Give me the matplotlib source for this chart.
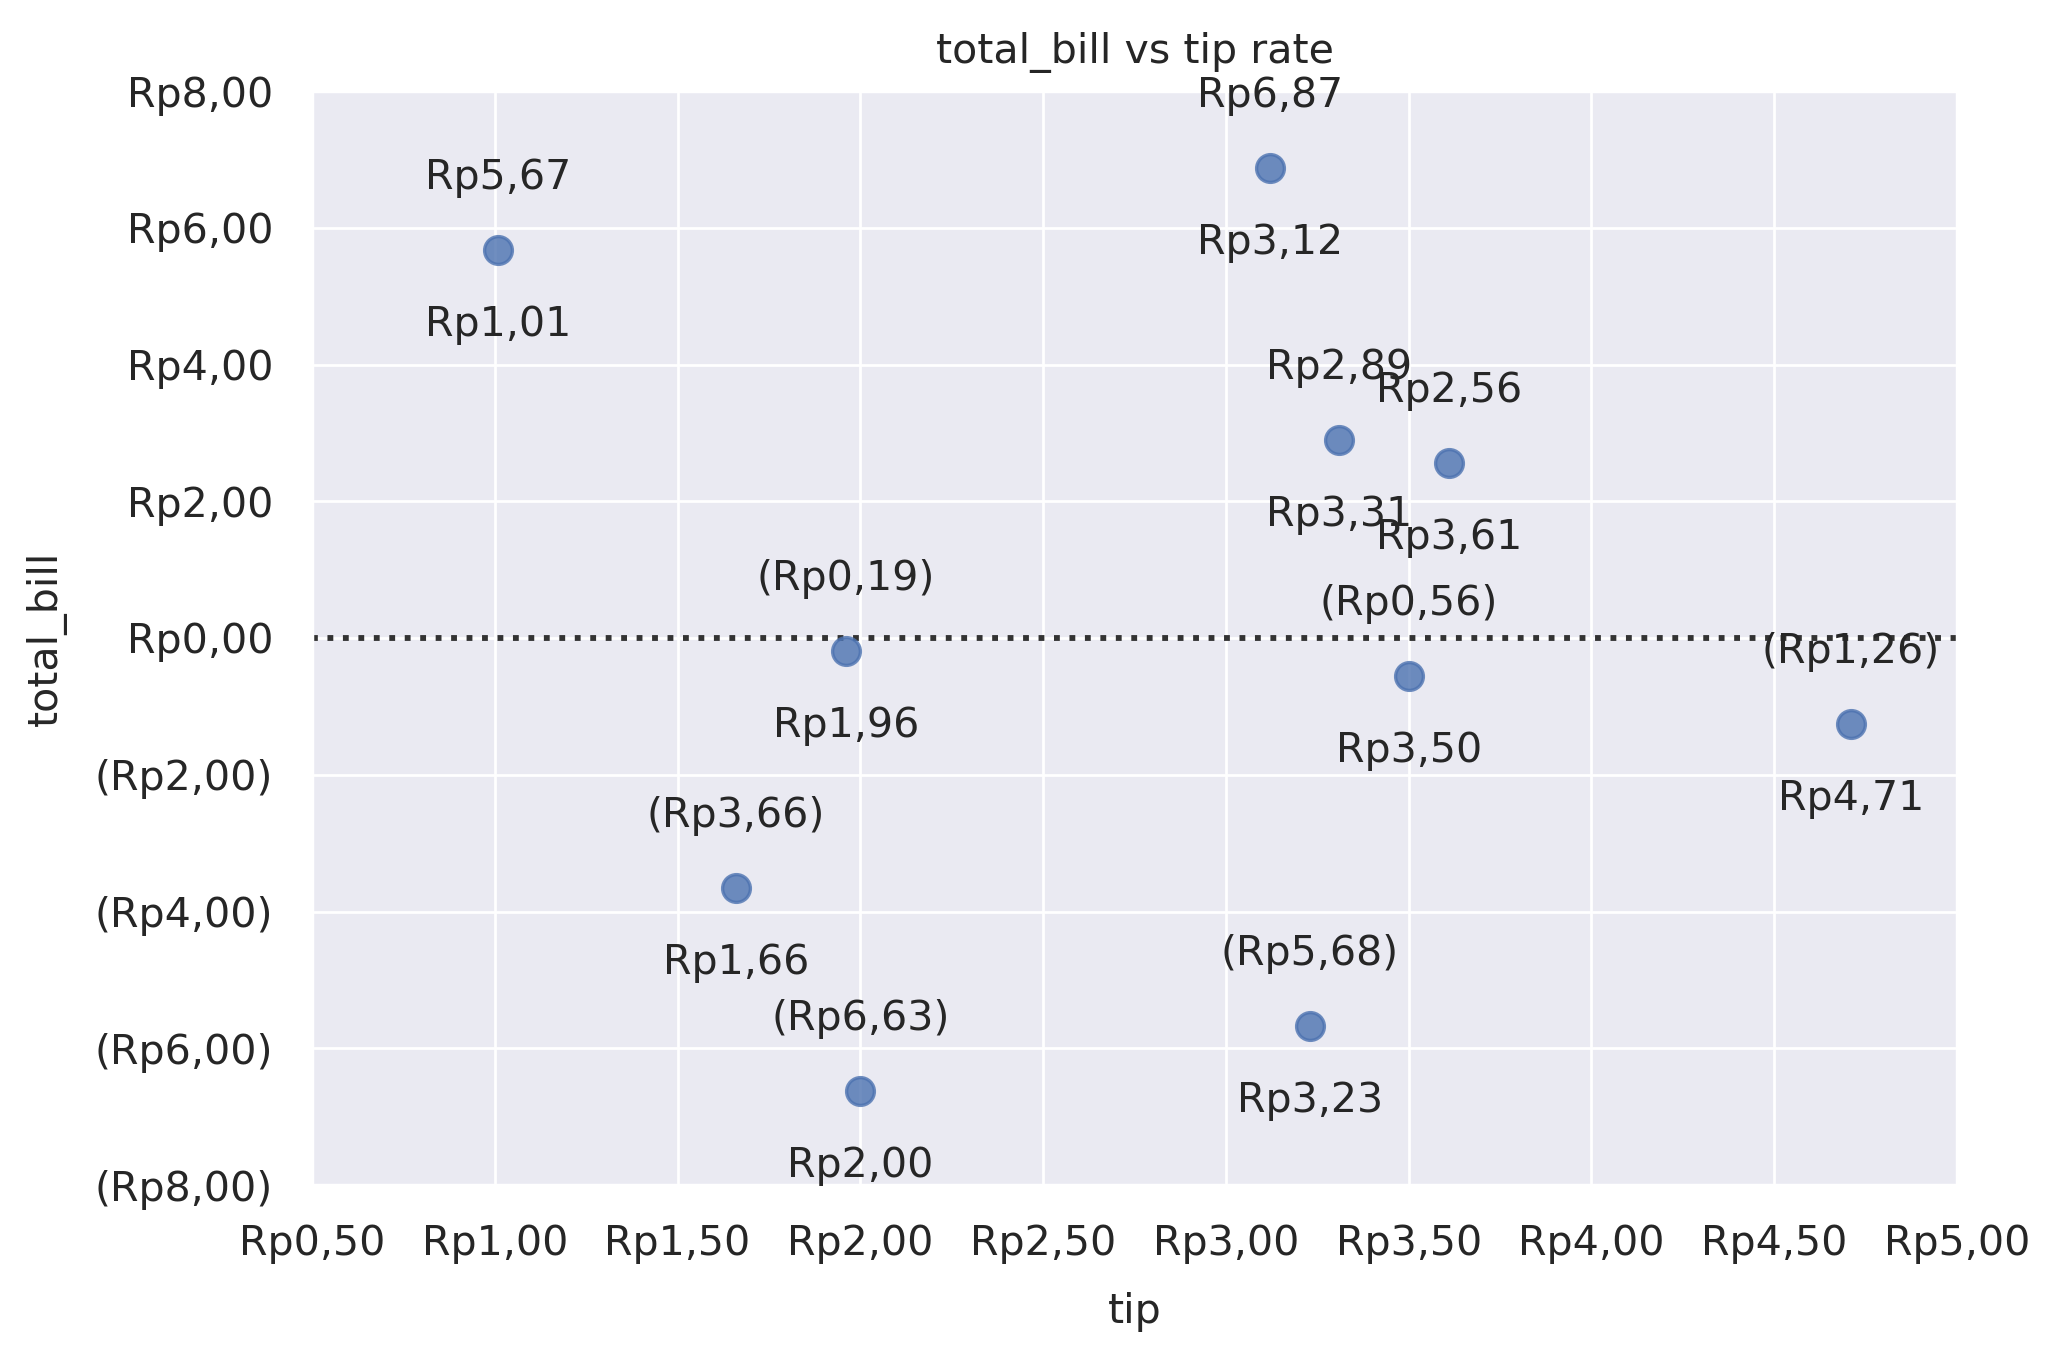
import matplotlib
matplotlib.use("Agg")
import matplotlib.pyplot as plt
import seaborn as sns
from matplotlib.ticker import FuncFormatter, MultipleLocator

tips = [1.01, 3.12, 3.31, 3.61, 1.96, 3.50, 4.71, 1.66, 3.23, 2.00]
bills = [5.67, 6.87, 2.89, 2.56, -0.19, -0.56, -1.26, -3.66, -5.68, -6.63]

sns.set_theme(style="darkgrid")
plt.rcParams['font.family'] = ['DejaVu Sans']

FS = 14.8
DPI = 200


def rp(v, pos=None):
    s = "Rp{:.2f}".format(abs(v)).replace(".", ",")
    return "({})".format(s) if v < 0 else s


fig = plt.figure(figsize=(2065 / DPI, 1355 / DPI), dpi=DPI)
ax = fig.add_axes([312 / 2065, 1 - 1185 / 1355, (1957 - 312) / 2065, (1185 - 91) / 1355])

ax.grid(True, color="white", linewidth=1.0)
ax.scatter(tips, bills, s=100, color="#4C72B0", alpha=0.8, edgecolor="#4C72B0", linewidth=1.2, zorder=3)
ax.axhline(0, color="#333333", linestyle=":", linewidth=2.1, zorder=2)

for x, y in zip(tips, bills):
    ax.annotate(rp(y), (x, y), xytext=(0, 26), textcoords="offset points",
                ha="center", va="center", fontsize=FS, color="#262626")
    ax.annotate(rp(x), (x, y), xytext=(0, -27), textcoords="offset points",
                ha="center", va="center", fontsize=FS, color="#262626")

ax.set_xlim(0.5, 5.0)
ax.set_ylim(-8, 8)
ax.xaxis.set_major_locator(MultipleLocator(0.5))
ax.yaxis.set_major_locator(MultipleLocator(2))
ax.xaxis.set_major_formatter(FuncFormatter(rp))
ax.yaxis.set_major_formatter(FuncFormatter(rp))
ax.tick_params(axis="both", labelsize=FS, pad=14, length=0, colors="#262626")

ax.set_title("total_bill vs tip rate", fontsize=FS, pad=10, color="#262626")
ax.set_xlabel("tip", fontsize=FS, labelpad=10, color="#262626")
ax.set_ylabel("total_bill", fontsize=FS, labelpad=10, color="#262626")

fig.savefig("out.png", dpi=DPI)
